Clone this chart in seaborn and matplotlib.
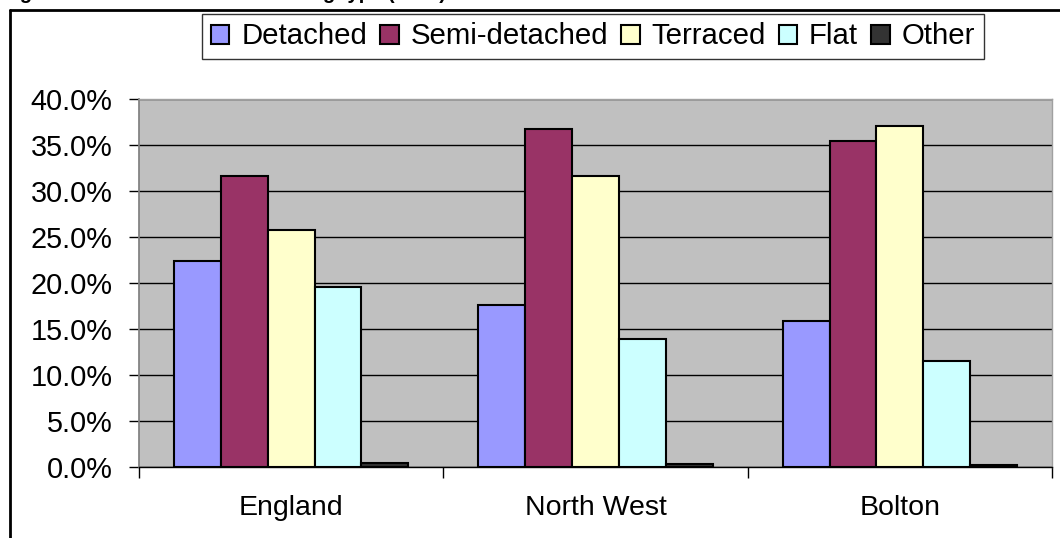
import numpy as np
import pandas as pd
import seaborn as sns
import matplotlib.pyplot as plt
from matplotlib.lines import Line2D
from matplotlib.ticker import PercentFormatter, FixedLocator

# data (% of households)
areas = ['England', 'North West', 'Bolton']
types = ['Detached', 'Semi-detached', 'Terraced', 'Flat', 'Other']
detached = [22.4, 17.6, 15.9]
semi = [31.6, 36.7, 35.4]
terraced = [25.8, 31.6, 37.1]
flat = [19.6, 13.9, 11.5]
other = [0.4, 0.3, 0.2]

colours = ['#9999FF', '#993366', '#FFFFCC', '#CCFFFF', '#333333']

df = pd.DataFrame({'area': areas * 5,
                   'type': np.repeat(types, 3),
                   'pct': detached + semi + terraced + flat + other})

sns.set_theme(style='white')
plt.rcParams['font.family'] = ['Liberation Sans', 'DejaVu Sans']
plt.rcParams['text.color'] = 'black'
plt.rcParams['xtick.color'] = 'black'
plt.rcParams['ytick.color'] = 'black'

fig = plt.figure(figsize=(10.6, 5.38), dpi=100)
ax = fig.add_axes([139 / 1060, 1 - 467 / 538, 913 / 1060, 368 / 538])

sns.barplot(data=df, x='area', y='pct', hue='type', palette=colours,
            hue_order=types, order=areas, width=0.77, gap=0,
            edgecolor='black', linewidth=1.5, saturation=1, ax=ax, zorder=3)

ax.set_facecolor('#C0C0C0')
ax.set_ylim(0, 40)
ax.set_xlim(-0.5, 2.5)
ax.set_yticks(np.arange(0, 41, 5))
ax.yaxis.set_major_formatter(PercentFormatter(decimals=1))
ax.yaxis.grid(True, color='black', linewidth=1)
ax.set_axisbelow(True)
ax.set_xlabel('')
ax.set_ylabel('')

for s in ['top', 'right']:
    ax.spines[s].set_color('#A0A0A0')
    ax.spines[s].set_linewidth(1)
ax.spines['left'].set_color('#808080')
ax.spines['bottom'].set_color('black')
ax.spines['bottom'].set_linewidth(1)

ax.tick_params(axis='y', left=True, length=7, width=1, color='black',
               pad=12, labelsize=20.8)
ax.tick_params(axis='x', which='major', bottom=False, length=0, pad=20,
               labelsize=20.5)
ax.xaxis.set_minor_locator(FixedLocator([-0.5, 0.5, 1.5, 2.5]))
ax.tick_params(axis='x', which='minor', bottom=True, length=8, width=1,
               color='black')

handles, labels = ax.get_legend_handles_labels()
leg = ax.legend(handles, labels, ncol=5, loc='center',
                bbox_to_anchor=(593 / 1060, 1 - 36.5 / 538),
                bbox_transform=fig.transFigure, frameon=True,
                fancybox=False, fontsize=21.2, handlelength=0.62,
                handleheight=0.62, handletextpad=0.4, columnspacing=0.45,
                borderpad=0.3, borderaxespad=0)
leg.get_frame().set_edgecolor('black')
leg.get_frame().set_linewidth(1)

# outer chart border, cut off at right and bottom
fig.add_artist(Line2D([10 / 1060, 10 / 1060], [0, 1 - 10 / 538],
                      transform=fig.transFigure, color='black', lw=2))
fig.add_artist(Line2D([10 / 1060, 1], [1 - 10 / 538, 1 - 10 / 538],
                      transform=fig.transFigure, color='black', lw=2))

# title mostly cut off above the image, as in the reference
fig.text(2 / 1060, 1 + 1 / 538, 'Figure 5: Accommodation dwelling type (2001)',
         fontsize=14.5, fontweight='bold', va='baseline', ha='left')

fig.savefig('out.png', dpi=100)
